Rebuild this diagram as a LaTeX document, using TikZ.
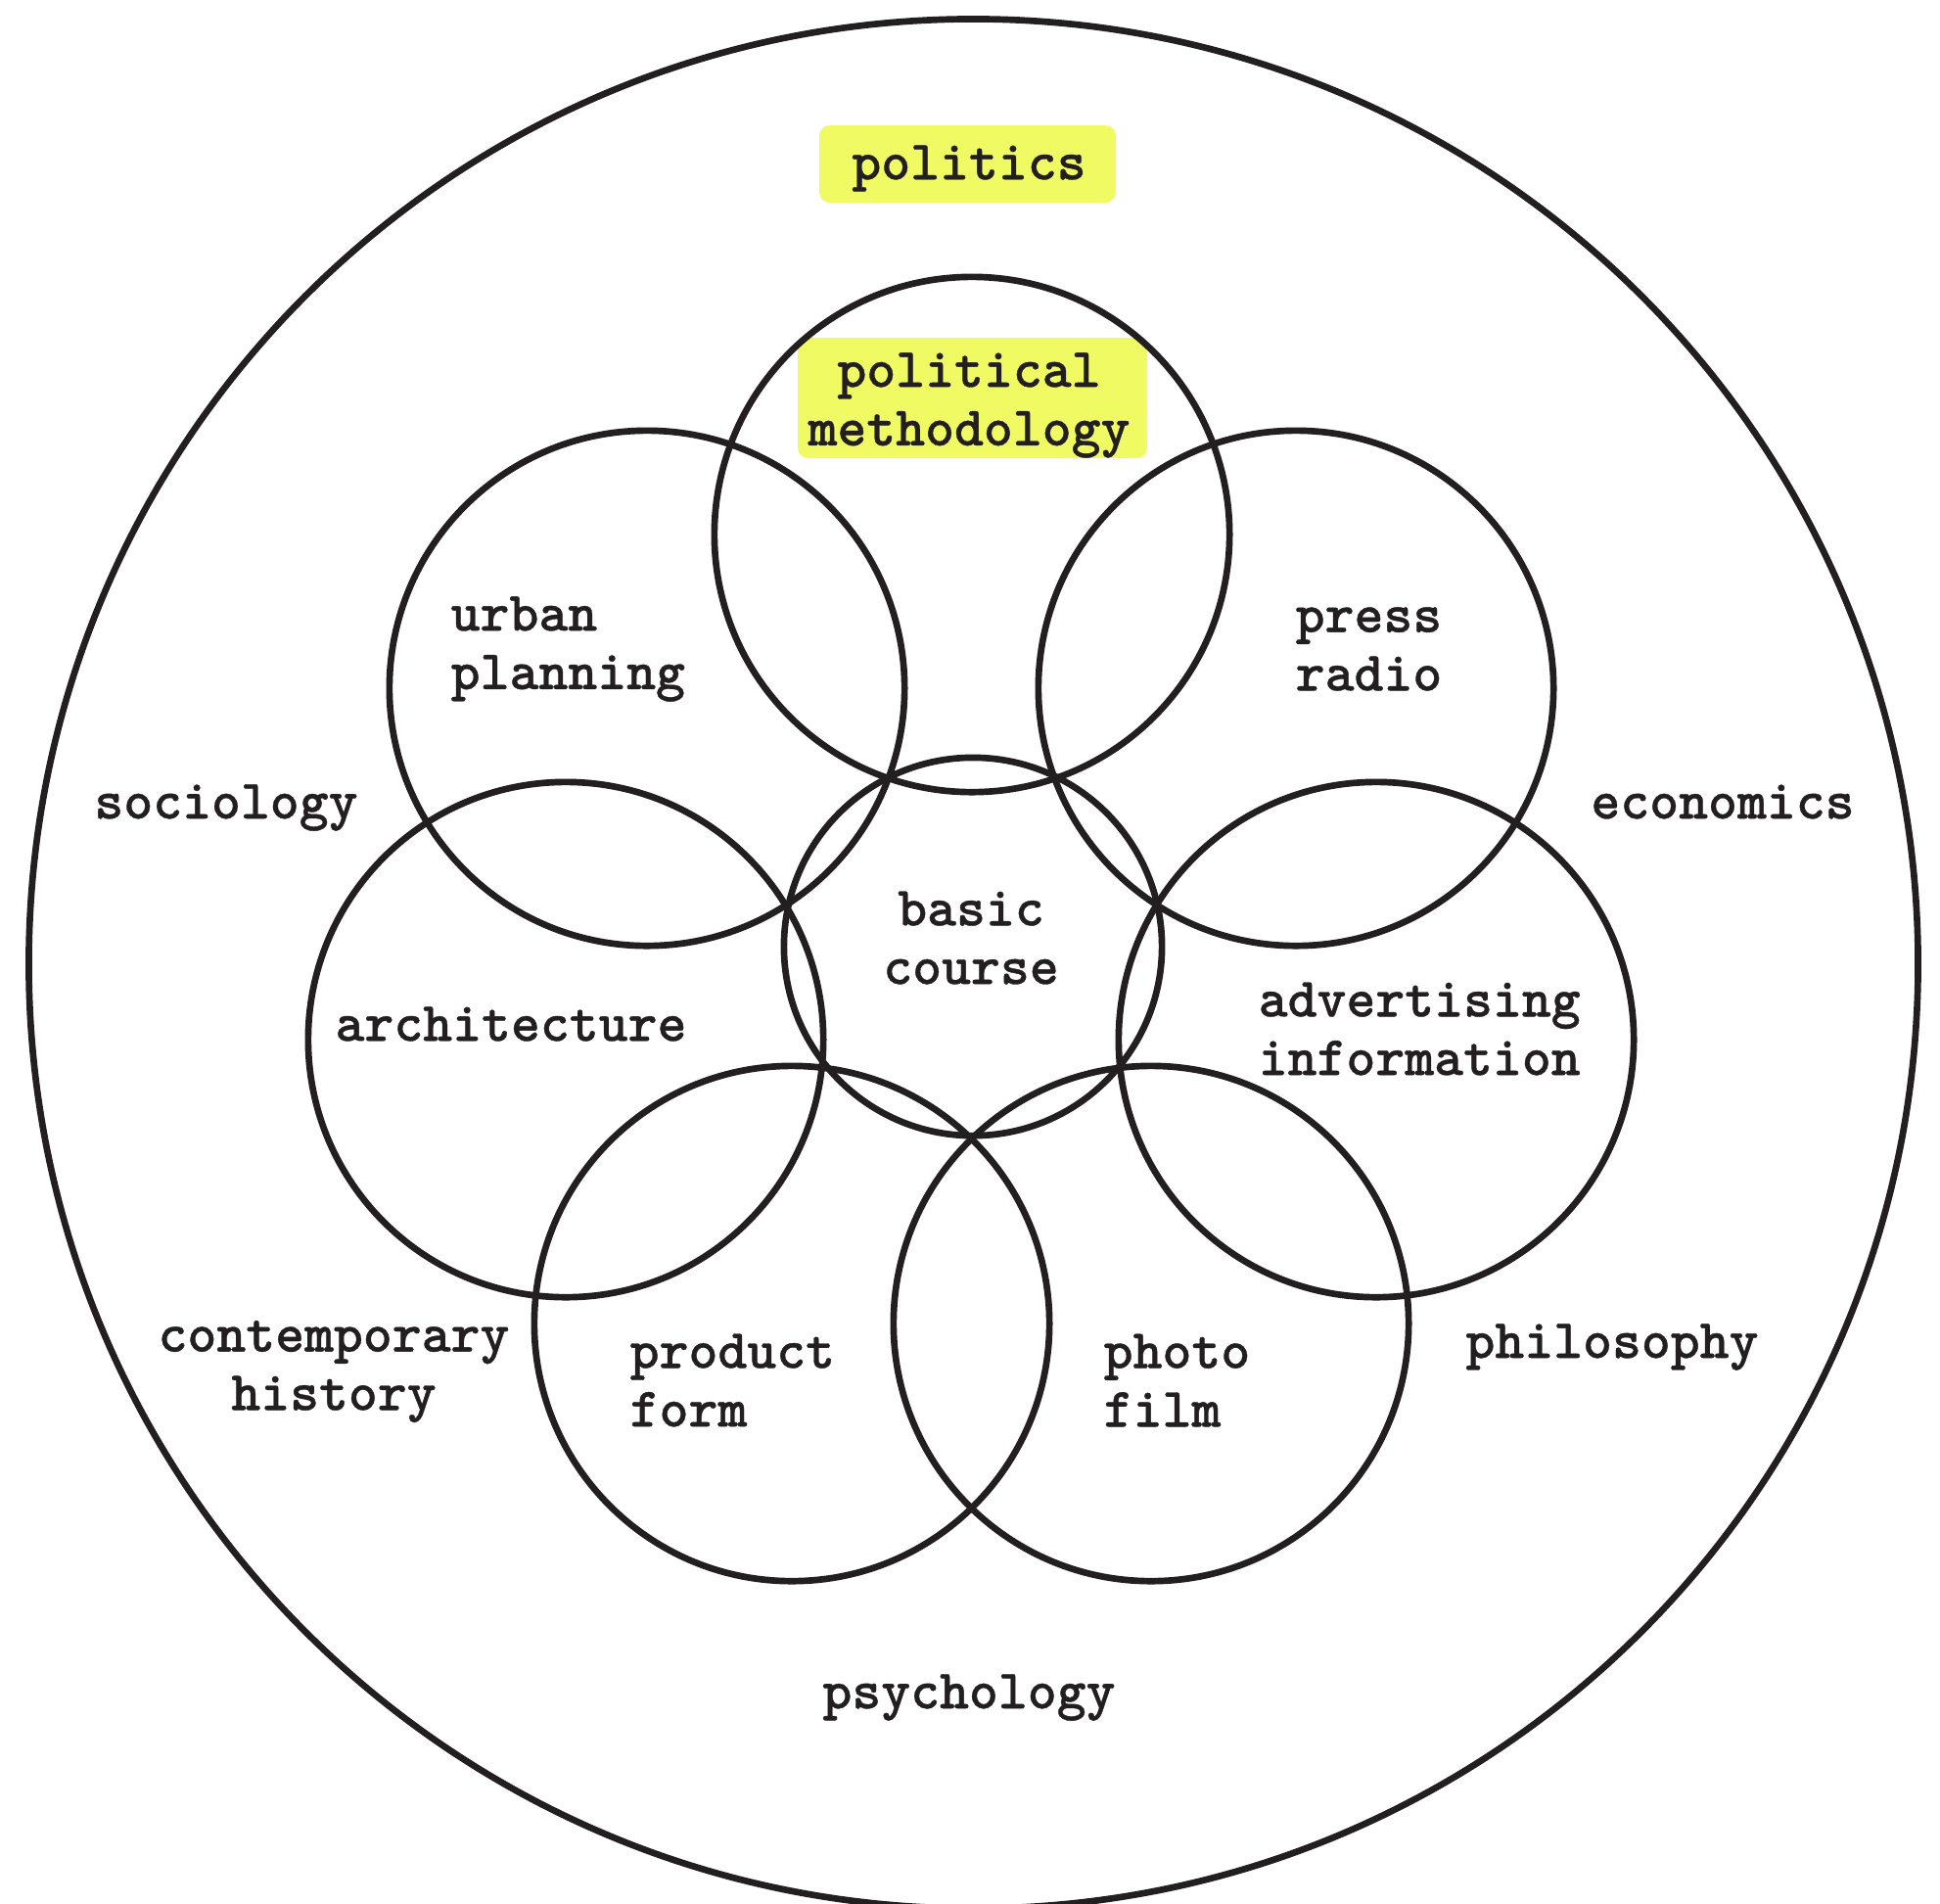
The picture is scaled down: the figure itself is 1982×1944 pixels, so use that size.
\documentclass[tikz,border=0pt]{standalone}
\usepackage{fontspec}
\usepackage{tikz}
\usepackage{xcolor}

\newfontfamily\labelfont{lmmonolt10-bold.otf}[FakeBold=0.6]
\definecolor{ink}{RGB}{35,31,32}
\definecolor{hilite}{RGB}{240,251,100}

\begin{document}
\begin{tikzpicture}[x=0.01cm, y=-0.01cm,
        ring/.style={circle, draw=ink, line width=1.9pt, inner sep=0pt, minimum size=5.26cm},
        label/.style={text=ink, font=\fontsize{16.2}{17}\selectfont\labelfont, inner sep=0pt},
        marker/.style={fill=hilite, rounded corners=3pt}]
        \useasboundingbox (0,0) rectangle (1982,1944);

        % Highlights
        \fill[marker] (837,128) rectangle (1140,207);
        \fill[marker] (815,345) rectangle (1172,468);

        % Circles
        \node[circle, draw=ink, line width=1.9pt, minimum size=19.29cm] (outer) at (994.5,984.5) {};
        \node[circle, draw=ink, line width=1.9pt, minimum size=3.86cm] (basic) at (994,967) {};
        \node[ring] (polmeth) at (993,546) {};
        \node[ring] (urban) at (661,703) {};
        \node[ring] (arch) at (578,1062) {};
        \node[ring] (product) at (809,1352) {};
        \node[ring] (photo) at (1176,1352) {};
        \node[ring] (advert) at (1406,1062) {};
        \node[ring] (press) at (1324,703) {};

        % Labels
        \node[label] (politics) at (990,172) {politics};
        \node[label, align=center] (polmethtext) at (990,414) {political\\methodology};
        \node[label, align=left, anchor=west] (urbantext) at (460,663) {urban\\planning};
        \node[label, align=left, anchor=west] (presstext) at (1323,663) {press\\radio};
        \node[label] (sociology) at (231,825) {sociology};
        \node[label] (economics) at (1760,819) {economics};
        \node[label, align=center] (basictext) at (992,958) {basic\\course};
        \node[label] (archtext) at (522,1046) {architecture};
        \node[label, align=left, anchor=west] (adverttext) at (1285,1051) {advertising\\information};
        \node[label, align=center] (history) at (341,1401) {contemporary\\history};
        \node[label, align=left, anchor=west] (producttext) at (643,1410) {product\\form};
        \node[label, align=left, anchor=west] (phototext) at (1127,1410) {photo\\film};
        \node[label] (philosophy) at (1647,1376) {philosophy};
        \node[label] (psychology) at (990,1734) {psychology};
    \end{tikzpicture}
\end{document}
